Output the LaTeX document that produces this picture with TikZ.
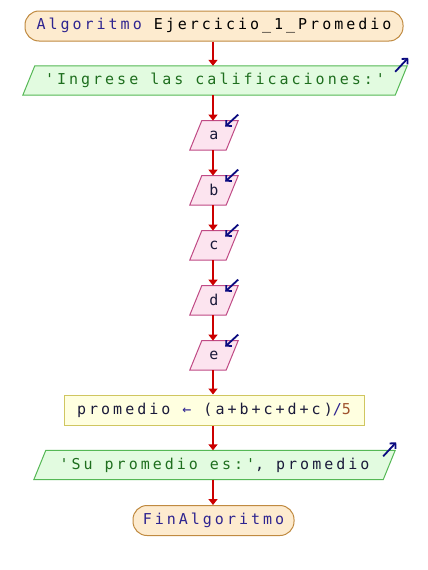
\documentclass[tikz,border=0pt]{standalone}
\usepackage{fontspec}
\newfontfamily\psfont[LetterSpace=20]{DejaVu Sans Mono}
\usetikzlibrary{arrows.meta}
\definecolor{kw}{HTML}{2E2490}
\definecolor{idc}{HTML}{1A1A3A}
\definecolor{strc}{HTML}{1E6E1E}
\definecolor{numc}{HTML}{A0522D}
\definecolor{flow}{HTML}{CC0000}
\definecolor{ioarrow}{HTML}{0A0A80}
\definecolor{termfill}{HTML}{FDEBCF}
\definecolor{termdraw}{HTML}{C08A40}
\definecolor{outfill}{HTML}{E2FBE0}
\definecolor{outdraw}{HTML}{55B855}
\definecolor{infill}{HTML}{FCE4EF}
\definecolor{indraw}{HTML}{C04A85}
\definecolor{asgfill}{HTML}{FFFFE0}
\definecolor{asgdraw}{HTML}{D0C660}
\tikzset{
  lbl/.style={font=\psfont\fontsize{15}{18}\selectfont, inner sep=0pt, align=center},
  term/.style={lbl, draw=termdraw, fill=termfill, line width=1pt, rounded corners=14pt, minimum height=30pt},
  asg/.style={lbl, draw=asgdraw, fill=asgfill, line width=1pt, minimum height=30pt},
  pbox/.style={lbl, minimum height=29pt},
  outshape/.style={draw=outdraw, fill=outfill, line width=1pt},
  inshape/.style={draw=indraw, fill=infill, line width=1pt},
  flowline/.style={draw=flow, line width=1.8pt, -{Triangle[length=6pt,width=9pt]}},
  ioline/.style={draw=ioarrow, line width=1.8pt, -{Straight Barb[length=4pt,width=8pt]}}
}
\newcommand{\para}[3]{% style, node, slant
  \path[#1] ([xshift=#3]#2.north west) -- (#2.north east) -- ([xshift=-#3]#2.south east) -- (#2.south west) -- cycle;}
\begin{document}
\begin{tikzpicture}[x=1pt,y=-1pt]
\useasboundingbox (0,0) rectangle (428,570);
\fill[white] (0,0) rectangle (428,570);

\node[term, minimum width=378pt] (start) at (214,26) {\textcolor{kw}{Algoritmo} \textcolor{black}{Ejercicio\_1\_Promedio}};

\node[pbox, minimum width=384pt] (out1) at (215,80.5) {};
\para{outshape}{out1}{12pt}
\node[lbl] at (out1) {\textcolor{strc}{'Ingrese las calificaciones:'}};

\foreach \n/\y in {a/135.3, b/190.3, c/245.3, d/300.3, e/355.3}{
  \node[pbox, minimum width=48pt] (\n) at (214,\y) {};
  \para{inshape}{\n}{12pt}
  \node[lbl] at (\n) {\textcolor{idc}{\n}};
}

\node[asg, minimum width=300pt] (asg) at (214,410) {\textcolor{idc}{promedio} \textcolor{kw}{←} \textcolor{idc}{(a+b+c+d+c)}\textcolor{kw}{/}\textcolor{numc}{5}};

\node[pbox, minimum width=361pt] (out2) at (214.5,465) {};
\para{outshape}{out2}{12pt}
\node[lbl] at (out2) {\textcolor{strc}{'Su promedio es:'}\textcolor{idc}{, promedio}};

\node[term, minimum width=161pt] (fin) at (213.5,520.5) {\textcolor{kw}{FinAlgoritmo}};

% flow connectors
\foreach \p/\q in {start/out1, out1/a, a/b, b/c, c/d, d/e, e/asg, asg/out2, out2/fin}{
  \draw[flowline] (\p.south -| 213,0) -- (\q.north -| 213,0);
}

% io arrows
\coordinate (o1a) at ([xshift=-12pt,yshift=-6pt]out1.north east);
\coordinate (o1b) at ([xshift=1pt,yshift=8pt]out1.north east);
\draw[ioline] (o1a) -- (o1b);
\coordinate (o2a) at ([xshift=-12pt,yshift=-6pt]out2.north east);
\coordinate (o2b) at ([xshift=1pt,yshift=8pt]out2.north east);
\draw[ioline] (o2a) -- (o2b);
\foreach \n in {a,b,c,d,e}{
  \coordinate (\n i1) at ([yshift=6pt]\n.north east);
  \coordinate (\n i2) at ([xshift=-13pt,yshift=-6pt]\n.north east);
  \draw[ioline] (\n i1) -- (\n i2);
}
\end{tikzpicture}
\end{document}
